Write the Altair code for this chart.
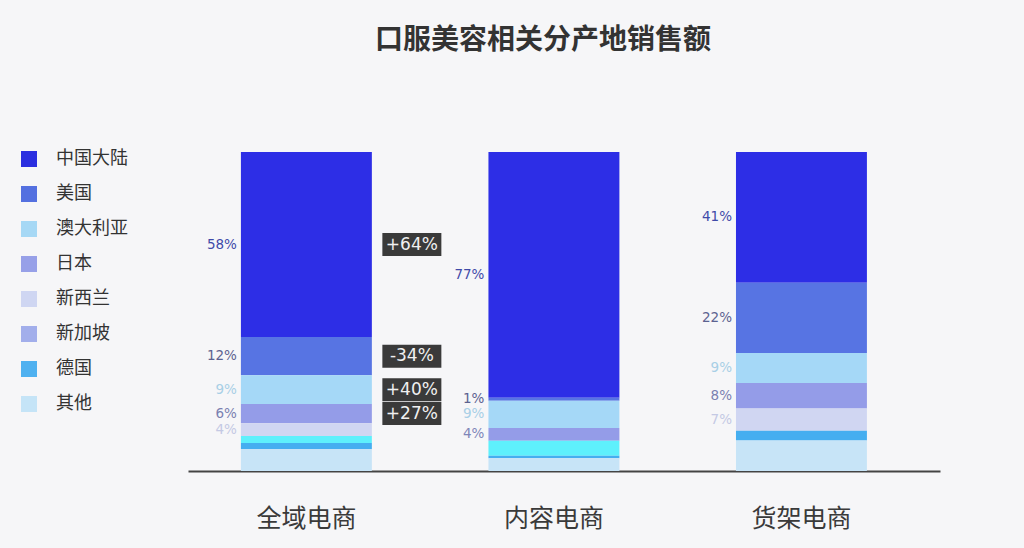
import altair as alt
import pandas as pd

channels = ["全域电商", "内容电商", "货架电商"]
regions = ["中国大陆", "美国", "澳大利亚", "日本", "新西兰", "新加坡", "德国", "其他"]

# share of sales (%), top to bottom in each bar
share_all = [58, 12, 9, 6, 4, 2.2, 2, 6.8]
share_content = [77, 1, 8.5, 4, 0, 4.7, 0.8, 4]
share_shelf = [41, 22, 9.4, 8, 7, 0, 3, 9.6]

labels_all = ["58%", "12%", "9%", "6%", "4%", "", "", ""]
labels_content = ["77%", "1%", "9%", "4%", "", "", "", ""]
labels_shelf = ["41%", "22%", "9%", "8%", "7%", "", "", ""]

growth_all = ["+64%", "-34%", "+40%", "+27%", "", "", "", ""]

bar_colors = ["#2d2ee6", "#5774e3", "#a5d8f7", "#949ce8", "#d0d6f2", "#5ef0fc", "#45aef0", "#c7e4f7"]
legend_colors = ["#2b2fe0", "#5470e0", "#a6d8f5", "#97a0e8", "#cfd6f2", "#a2aeeb", "#4fb1f0", "#c5e4f7"]
label_colors = ["#3f4aa8", "#5c6290", "#a8cfe6", "#7a80b0", "#c4c9e4", "#c4c9e4", "#c4c9e4", "#c4c9e4"]
label_colors_content = ["#3f4aa8", "#5c6290", "#a8cfe6", "#7f86b8", "#c4c9e4", "#c4c9e4", "#c4c9e4", "#c4c9e4"]

rows = []
for ch, vals, labs, lcols in [
    ("全域电商", share_all, labels_all, label_colors),
    ("内容电商", share_content, labels_content, label_colors_content),
    ("货架电商", share_shelf, labels_shelf, label_colors),
]:
    for i, r in enumerate(regions):
        rows.append({
            "渠道": ch, "地区": r, "idx": i, "值": vals[i],
            "fill": bar_colors[i], "label": labs[i], "labelColor": lcols[i],
            "growth": growth_all[i] if ch == "全域电商" else "",
        })
df = pd.DataFrame(rows)

cjk = "Noto Sans CJK SC"

xscale = alt.Scale(domain=channels, paddingInner=0.471, paddingOuter=0.2545, align=0.42)
yscale = alt.Scale(domain=[0, 1])

base = alt.Chart(df).transform_stack(
    stack="值", groupby=["渠道"], as_=["y0", "y1"], offset="normalize",
    sort=[alt.SortField("idx", order="descending")],
).transform_calculate(mid="(datum.y0 + datum.y1) / 2")

bars = base.mark_bar().encode(
    x=alt.X("渠道:N", scale=xscale, title=None,
            axis=alt.Axis(labelFontSize=25, labelColor="#3a3a3a", labelFont=cjk, labelAngle=0,
                          ticks=False, tickSize=0, labelPadding=35, domainColor="#444",
                          domainWidth=2)),
    y=alt.Y("y0:Q", scale=yscale, axis=None),
    y2="y1:Q",
    fill=alt.Fill("fill:N", scale=None),
)

legend_layer = base.mark_bar(opacity=0).encode(
    x=alt.X("渠道:N", scale=xscale),
    y=alt.Y("y0:Q", scale=yscale),
    y2="y1:Q",
    color=alt.Color("地区:N", sort=regions,
                    scale=alt.Scale(domain=regions, range=legend_colors),
                    legend=alt.Legend(orient="none", legendX=-168, legendY=-2, title=None,
                                      symbolType="square", symbolSize=256, symbolOpacity=1,
                                      symbolStrokeWidth=0, labelFontSize=18, labelFont=cjk,
                                      labelColor="#333", rowPadding=17, labelOffset=18)),
)

labels = base.transform_filter("datum.label != ''").mark_text(
    align="right", baseline="middle", dx=-4, fontSize=13.5, font="DejaVu Sans"
).encode(
    x=alt.X("渠道:N", scale=xscale, bandPosition=0),
    y=alt.Y("mid:Q", scale=yscale),
    text="label:N",
    fill=alt.Fill("labelColor:N", scale=None),
)

box_path = "M-1,-0.39 L1,-0.39 L1,0.39 L-1,0.39 Z"
boxes = base.transform_filter("datum.growth != ''").mark_point(
    shape=box_path, size=3481, filled=True, opacity=1, color="#3a3a3a",
    strokeWidth=0, xOffset=40
).encode(
    x=alt.X("渠道:N", scale=xscale, bandPosition=1),
    y=alt.Y("mid:Q", scale=yscale),
)

growth_text = base.transform_filter("datum.growth != ''").mark_text(
    align="center", baseline="middle", dx=40, fontSize=17, font="DejaVu Sans", color="#f0f0f0"
).encode(
    x=alt.X("渠道:N", scale=xscale, bandPosition=1),
    y=alt.Y("mid:Q", scale=yscale),
    text="growth:N",
)

chart = alt.layer(bars, legend_layer, labels, boxes, growth_text).properties(
    width=752, height=319,
    padding={"left": 188, "top": 152, "right": 84, "bottom": 77},
    autosize="none",
    background="#f6f6f8",
    title=alt.TitleParams("口服美容相关分产地销售额", fontSize=28, font=cjk, fontWeight="bold",
                          color="#333", anchor="middle", offset=95, dx=-21),
).configure_view(stroke=None)

chart.save("out.html", embed_options={"renderer": "svg", "actions": False})
